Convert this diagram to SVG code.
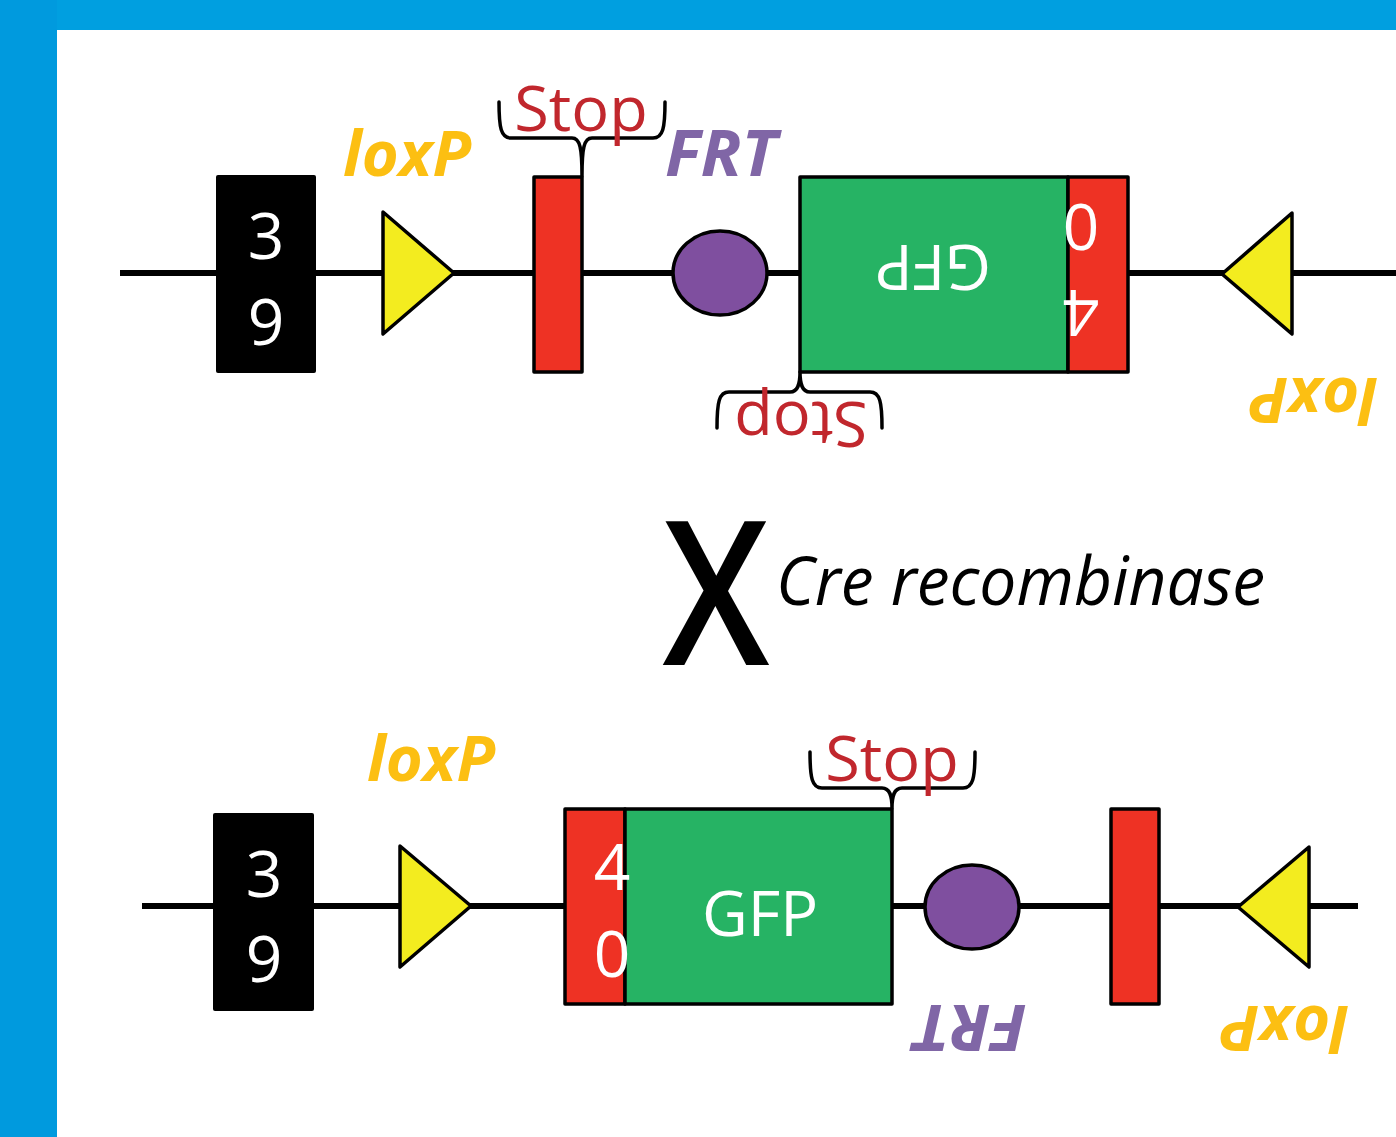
<svg xmlns="http://www.w3.org/2000/svg" width="1396" height="1137" viewBox="0 0 1396 1137">
<style>
text{font-family:"Open Sans","Noto Sans","Liberation Sans",sans-serif;text-anchor:middle}
.lox{font-style:italic;font-weight:700;font-size:63px;fill:#fcbf12}
.frt{font-style:italic;font-weight:700;font-size:64px;fill:#8066a6}
.stop{font-size:63px;fill:#c1272d}
.wht{font-size:63px;fill:#fff}
.dig{font-size:64px;fill:#fff}
.dna{stroke:#000;stroke-width:6;fill:none}
.box{stroke:#000;stroke-width:3.5;stroke-linejoin:round}
.brace{stroke:#000;stroke-width:3.5;fill:none;stroke-linecap:round}
.tri{fill:#f3ec1f}
.red{fill:#ee3224}
.grn{fill:#26b364}
.frtc{fill:#7f4f9f}
</style>
<rect x="0" y="0" width="1396" height="1137" fill="#fff"/>
<rect x="0" y="0" width="1396" height="30" fill="#009fe0"/>
<rect x="0" y="0" width="57" height="1137" fill="#009ade"/>

<g id="connectors">
<line class="dna" x1="120" y1="273" x2="1396" y2="273"/>
<line class="dna" x1="142" y1="906" x2="1358" y2="906"/>
</g>

<!-- top row -->
<g id="exon39-top">
<rect x="216" y="175" width="100" height="198" rx="2" fill="#000"/>
<text class="dig" x="266" y="259">3</text>
<text class="dig" x="266" y="345">9</text>
</g>
<g id="loxP1-top">
<polygon class="box tri" points="383,212 454,273 383,334"/>
<text class="lox" x="407" y="176" textLength="128" lengthAdjust="spacingAndGlyphs">loxP</text>
</g>
<g id="stop1-top">
<rect class="box red" x="534" y="177" width="48" height="195"/>
<path class="brace" d="M499,102 C499,128 501,138 511,138 L572,138 C580,138 582,148 582,176 M582,176 C582,148 584,138 592,138 L653,138 C663,138 665,128 665,102"/>
<text class="stop" x="581" y="131">Stop</text>
</g>
<g id="frt1-top">
<ellipse class="box frtc" cx="720" cy="273" rx="47" ry="42"/>
<text class="frt" x="721" y="176" textLength="112" lengthAdjust="spacingAndGlyphs">FRT</text>
</g>
<g id="gfp-top">
<rect class="box grn" x="800" y="177" width="268" height="195"/>
<rect class="box red" x="1068" y="177" width="60" height="195"/>
<text class="wht" x="933" y="291" transform="rotate(180 933 268)">GFP</text>
<text class="dig" x="1081" y="250" transform="rotate(180 1081 227)">0</text>
<text class="dig" x="1081" y="335" transform="rotate(180 1081 312.5)">4</text>
<path class="brace" d="M717,428 C717,402 719,392 729,392 L790,392 C798,392 800,384 800,372 M800,372 C800,384 802,392 810,392 L870,392 C880,392 882,402 882,428"/>
<text class="stop" x="801" y="447" transform="rotate(180 801 424.5)">Stop</text>
</g>
<g id="loxP2-top">
<polygon class="box tri" points="1292,213 1222,274 1292,334"/>
<text class="lox" x="1314" y="426" textLength="128" lengthAdjust="spacingAndGlyphs" transform="rotate(180 1314 402)">loxP</text>
</g>

<!-- Cre -->
<g id="cre">
<text x="716" y="665" textLength="107" lengthAdjust="spacingAndGlyphs" style="font-size:202px;font-weight:600;fill:#000">X</text>
<text x="776" y="605" textLength="489" lengthAdjust="spacingAndGlyphs" style="font-size:67px;font-style:italic;fill:#000;text-anchor:start">Cre recombinase</text>
</g>

<!-- bottom row -->
<g id="exon39-bottom">
<rect x="213" y="813" width="101" height="198" rx="2" fill="#000"/>
<text class="dig" x="264" y="897">3</text>
<text class="dig" x="264" y="982">9</text>
</g>
<g id="loxP1-bottom">
<polygon class="box tri" points="400,846 471,906 400,967"/>
<text class="lox" x="431" y="781" textLength="128" lengthAdjust="spacingAndGlyphs">loxP</text>
</g>
<g id="gfp-bottom">
<rect class="box red" x="565" y="809" width="60" height="195"/>
<rect class="box grn" x="625" y="809" width="267" height="195"/>
<text class="dig" x="612" y="890">4</text>
<text class="dig" x="612" y="977">0</text>
<text class="wht" x="760" y="936">GFP</text>
<path class="brace" d="M810,752 C810,778 812,788 822,788 L882,788 C890,788 892,796 892,808 M892,808 C892,796 894,788 902,788 L963,788 C973,788 975,778 975,752"/>
<text class="stop" x="892" y="781">Stop</text>
</g>
<g id="frt1-bottom">
<ellipse class="box frtc" cx="972" cy="907" rx="47" ry="42"/>
<text class="frt" x="970.5" y="1052" textLength="113" lengthAdjust="spacingAndGlyphs" transform="rotate(180 970.5 1028.5)">FRT</text>
</g>
<g id="stop1-bottom">
<rect class="box red" x="1111" y="809" width="48" height="195"/>
</g>
<g id="loxP2-bottom">
<polygon class="box tri" points="1309,847 1238,907 1309,967"/>
<text class="lox" x="1285" y="1054" textLength="128" lengthAdjust="spacingAndGlyphs" transform="rotate(180 1285 1030)">loxP</text>
</g>
</svg>
